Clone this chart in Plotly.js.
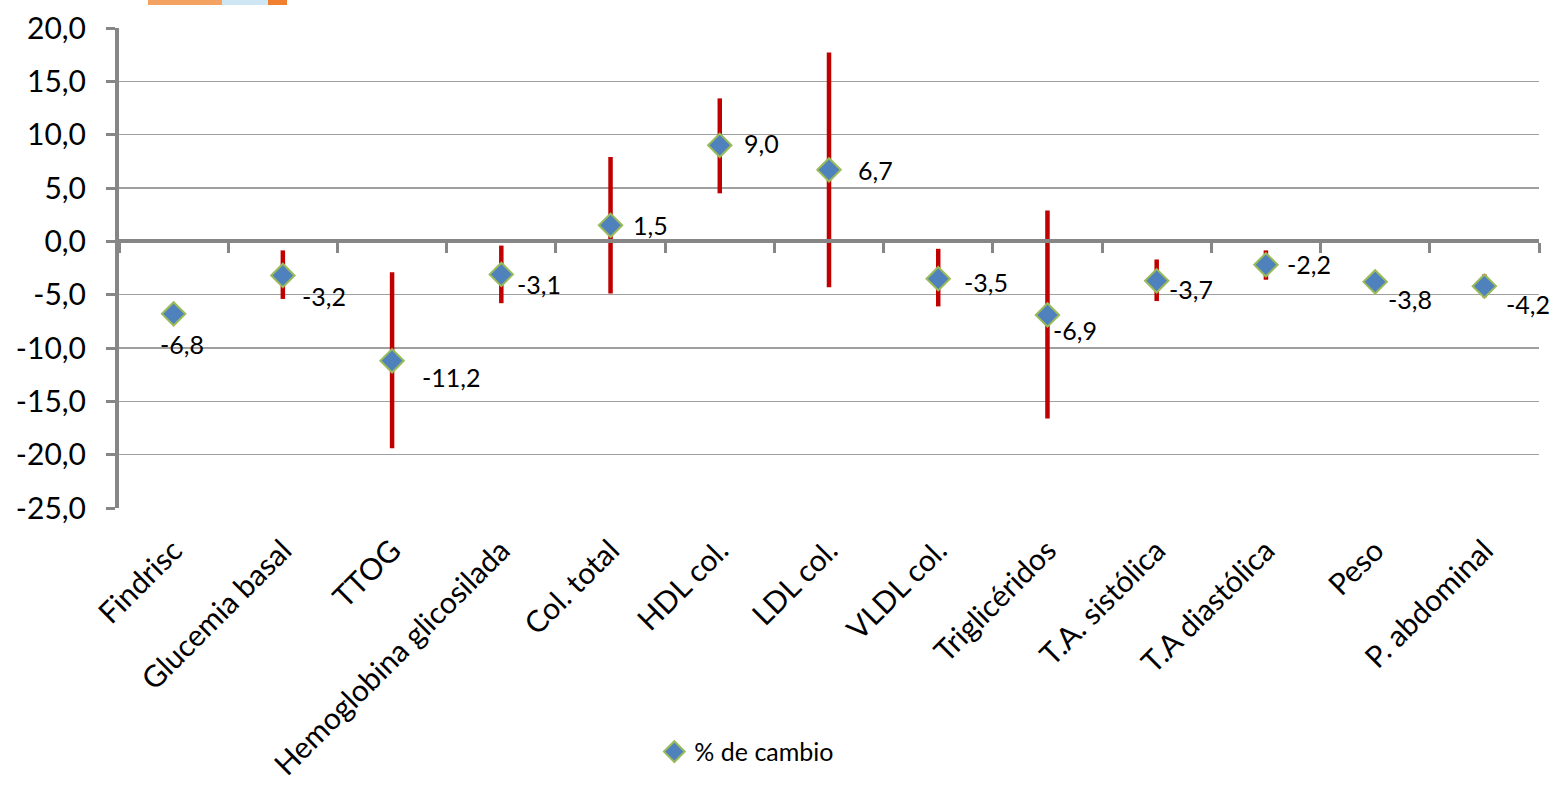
<!DOCTYPE html>
<html>
<head>
<meta charset="utf-8">
<script src="https://cdn.plot.ly/plotly-3.0.1.min.js"></script>
<style>html,body{margin:0;padding:0;background:#fff;}#chart{width:1555px;height:792px;}</style>
</head>
<body>
<div id="chart"></div>
<script>
// ---- data ----
const categories = ["Findrisc","Glucemia basal","TTOG","Hemoglobina glicosilada","Col. total","HDL col.","LDL col.","VLDL col.","Triglicéridos","T.A. sistólica","T.A diastólica","Peso","P. abdominal"];
const pctChange = [-6.8,-3.2,-11.2,-3.1,1.5,9.0,6.7,-3.5,-6.9,-3.7,-2.2,-3.8,-4.2];
const ciUpper  = [-6.8,-0.85,-2.9,-0.4,7.9,13.4,17.7,-0.7,2.9,-1.7,-0.85,-3.8,-3.1];
const ciLower  = [-6.8,-5.4,-19.4,-5.8,-4.9,4.5,-4.3,-6.1,-16.6,-5.6,-3.6,-3.8,-5.25];
const yTicks = [-25,-20,-15,-10,-5,0,5,10,15,20];
const yTickText = ["-25,0","-20,0","-15,0","-10,0","-5,0","0,0","5,0","10,0","15,0","20,0"];
const seriesName = "% de cambio";

// ---- style (label offsets in px) ----
const labelDx = [8,17,28,14,20,22,27,24,4,10,19,11,20];
const labelDy = [-30,-21,-16,-10,0,2,0,-3,-15,-8,1,-17,-18];
const labelAnchor = ["center","left","left","left","left","left","left","left","left","left","left","left","left"];

const FONT = "Lato, 'Open Sans', sans-serif";
const GRAY = "#868686";

const errPlus = pctChange.map((v,i)=>+(ciUpper[i]-v).toFixed(3));
const errMinus = pctChange.map((v,i)=>+(v-ciLower[i]).toFixed(3));

const main = {
  type: "scatter", mode: "markers", name: seriesName,
  x: categories, y: pctChange,
  marker: {symbol: "diamond", size: 18, color: "#4F81BD", line: {color: "#9BBB59", width: 2}},
  error_y: {type: "data", symmetric: false, array: errPlus, arrayminus: errMinus, color: "#C00000", thickness: 4.5, width: 0},
  hoverinfo: "x+y"
};
const helper = {
  type: "scatter", mode: "none", x: categories, y: pctChange, xaxis: "x2",
  showlegend: false, hoverinfo: "skip"
};

const fmt = v => v.toFixed(1).replace(".", ",");
const annotations = categories.map((c,i)=>({
  x: c, y: pctChange[i], xref: "x", yref: "y", text: fmt(pctChange[i]),
  showarrow: false, xanchor: labelAnchor[i], yanchor: "middle",
  xshift: labelDx[i], yshift: labelDy[i],
  font: {family: FONT, size: 25, color: "#000"}
}));

const yMin = -25, yMax = 20;
const xRange = [-0.5, categories.length - 0.5];
const layout = {
  width: 1555, height: 792,
  margin: {l: 119, r: 16, t: 28, b: 284},
  paper_bgcolor: "#fff", plot_bgcolor: "#fff",
  separators: ",.",
  showlegend: true,
  legend: {x: 0.377, xanchor: "left", y: -0.508, yanchor: "middle", orientation: "h",
           itemwidth: 30, font: {family: FONT, size: 25, color: "#000"}, bgcolor: "rgba(0,0,0,0)"},
  xaxis: {type: "category", range: xRange, showgrid: false, zeroline: false, showline: false,
          ticks: "outside", ticklen: 12, tickcolor: "rgba(0,0,0,0)", tickangle: -45,
          tickfont: {family: FONT, size: 30, color: "#000"}, fixedrange: true},
  xaxis2: {type: "category", overlaying: "x", matches: "x", anchor: "free",
           position: (0 - yMin) / (yMax - yMin),
           showticklabels: false, showgrid: false, zeroline: false,
           showline: true, linecolor: GRAY, linewidth: 4,
           ticks: "outside", tickson: "boundaries", ticklen: 10, tickwidth: 3, tickcolor: GRAY},
  yaxis: {range: [yMin, yMax], tickvals: yTicks, ticktext: yTickText, zeroline: false,
          showgrid: true, gridcolor: "#A0A0A0", gridwidth: 1.5,
          showline: true, linecolor: GRAY, linewidth: 4,
          ticks: "outside", ticklen: 9, tickwidth: 3, tickcolor: GRAY, ticklabelstandoff: 14,
          tickfont: {family: FONT, size: 30, color: "#000"}, fixedrange: true},
  annotations: annotations,
  shapes: [
    {type: "rect", xref: "paper", yref: "paper", x0: (148-119)/1420, x1: (222-119)/1420, y0: (508-5)/480, y1: (508-0)/480, fillcolor: "#F4A261", line: {width: 0}},
    {type: "rect", xref: "paper", yref: "paper", x0: (222-119)/1420, x1: (268-119)/1420, y0: (508-5)/480, y1: (508-0)/480, fillcolor: "#CFE6F5", line: {width: 0}},
    {type: "rect", xref: "paper", yref: "paper", x0: (268-119)/1420, x1: (287-119)/1420, y0: (508-5)/480, y1: (508-0)/480, fillcolor: "#F08030", line: {width: 0}}
  ]
};

Plotly.newPlot("chart", [helper, main], layout, {displayModeBar: false, staticPlot: true});
</script>
</body>
</html>
